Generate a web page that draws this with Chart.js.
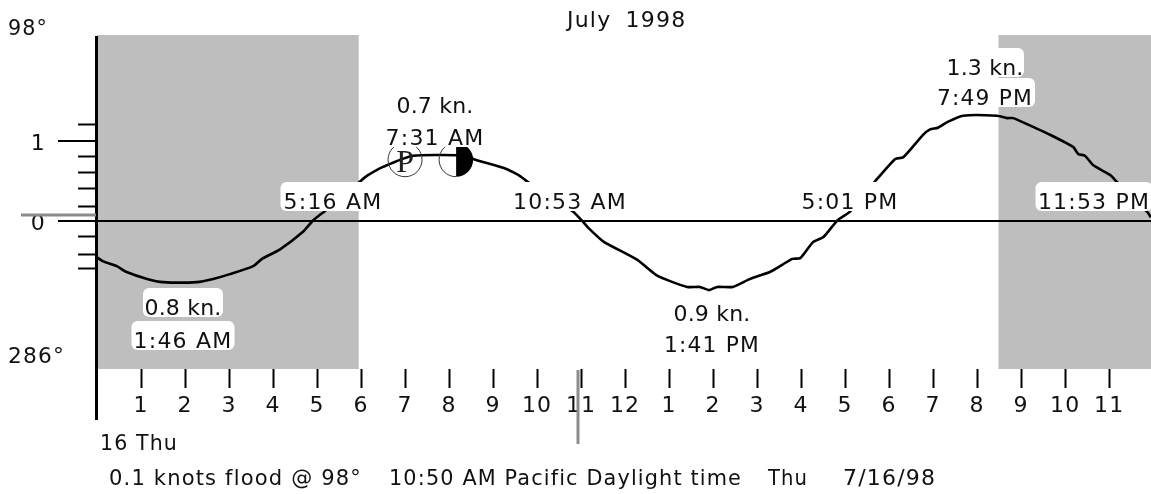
<!DOCTYPE html>
<html><head><meta charset="utf-8">
<style>html,body{margin:0;padding:0;background:#fff}canvas{display:block}</style>
<script src="https://cdn.jsdelivr.net/npm/chart.js@4"></script>
</head><body><canvas id="c" width="1151" height="494"></canvas>
<script>
const hours=[0,.14,.45,.66,1.14,1.5,2.27,2.64,3.02,3.55,3.75,4.16,4.68,4.91,5.18,5.98,6.14,6.5,7.18,8.48,8.55,9.23,9.57,9.77,10.82,11.05,11.16,11.5,12.27,12.73,13.41,13.7,13.91,14.09,14.45,14.84,15.3,15.8,15.98,16.27,16.5,16.7,16.84,17.11,17.68,18.14,18.32,18.77,18.93,19.11,19.32,19.68,20.45,20.68,20.82,21.27,21.59,22.18,22.3,22.45,22.64,23.02,23.18,23.86,23.95];
const knots=[-.46,-.51,-.57,-.64,-.73,-.77,-.77,-.73,-.67,-.57,-.48,-.36,-.14,0,.12,.49,.56,.67,.81,.81,.77,.66,.57,.49,.11,-.02,-.09,-.26,-.49,-.69,-.83,-.83,-.87,-.83,-.83,-.73,-.64,-.48,-.47,-.27,-.21,-.08,.01,.11,.49,.77,.79,1.07,1.14,1.16,1.23,1.31,1.31,1.28,1.28,1.17,1.09,.92,.83,.81,.69,.57,.48,.11,.04];
const hourTicks=[1,2,3,4,5,6,7,8,9,10,11,12,13,14,15,16,17,18,19,20,21,22,23];
const hourLabels=['1','2','3','4','5','6','7','8','9','10','11','12','1','2','3','4','5','6','7','8','9','10','11'];
const majorKnots=[0,1];
const minorKnots=[1.2,.8,.6,.4,.17,-.2,-.43,-.6];
const nightAM=[0,5.95];
const nightPM=[20.48,23.95];
const currentHour=10.93;
const currentKnots=.07;
const title='July 1998';
const dirTop='98°';
const dirBottom='286°';
const dayLabel='16 Thu';
const statusParts=['0.1 knots flood @ 98°','10:50 AM Pacific Daylight time','Thu','7/16/98'];
const FONT='22px "DejaVu Sans"';
const SP='1.2px';
const YMAX=2.319,YMIN=-1.856,XMAX=23.95;
// text, centre x, baseline y, fitted width
const boxed=[
 ['5:16 AM',333,209,101],['10:53 AM',570,209,114],['5:01 PM',850,209,97],['11:53 PM',1094,209,113],
 ['0.8 kn.',183,315,76],['1:46 AM',183,348,99],['0.7 kn.',435,113,76],['7:31 AM',435,145,99],
 ['0.9 kn.',712,321,76],['1:41 PM',712,352,96],['1.3 kn.',985,75,74],['7:49 PM',985,105,96]];
// text, left x, baseline y, fitted width
const plain=[[dirTop,8,35,40],[dirBottom,8,363,57],[dayLabel,100,450,78],
 [statusParts[0],109,485,253],[statusParts[1],389,485,353],[statusParts[2],768,485,40],[statusParts[3],843,485,102]];
const deco={id:'deco',
 beforeDraw(ch){ch.ctx.letterSpacing=SP;},
 afterDatasetsDraw(ch){
  const c=ch.ctx,x=ch.scales.x,y=ch.scales.y;
  const mx1=x.getPixelForValue(7),mx2=x.getPixelForValue(8.16),my=y.getPixelForValue(.76);
  c.save();c.lineWidth=1;c.strokeStyle='#333';
  c.beginPath();c.arc(mx1,my,17,0,7);c.stroke();
  c.beginPath();c.arc(mx2,my,17,Math.PI/2,Math.PI*1.5);c.stroke();
  c.fillStyle='#000';c.beginPath();c.arc(mx2,my,17,-Math.PI/2,Math.PI/2);c.closePath();c.fill();
  c.letterSpacing='0px';c.font='32px "Liberation Serif"';c.fillStyle='#222';c.textAlign='center';c.textBaseline='alphabetic';
  c.fillText('P',mx1,my+12);
  c.restore();
 },
 afterDraw(ch){
  const c=ch.ctx,x=ch.scales.x,y=ch.scales.y;
  c.save();
  c.strokeStyle='#000';c.lineWidth=3;c.beginPath();c.moveTo(x.getPixelForValue(0)-.5,36);c.lineTo(x.getPixelForValue(0)-.5,420);c.stroke();
  c.strokeStyle='#8c8c8c';c.lineWidth=3;
  const cx=Math.round(x.getPixelForValue(currentHour)),cy=Math.round(y.getPixelForValue(currentKnots));
  c.beginPath();c.moveTo(cx,370);c.lineTo(cx,444);c.stroke();
  c.beginPath();c.moveTo(21,cy);c.lineTo(96,cy);c.stroke();
  c.font=FONT;c.textBaseline='alphabetic';c.letterSpacing=SP;
  c.textAlign='center';
  for(const [t,px,py,w0] of boxed){
   const w=w0+4;
   c.fillStyle='#fff';c.beginPath();c.roundRect(px-w/2,py-27,w,29,6);c.fill();
  }
  c.fillStyle='#111';
  for(const [t,px,py,w] of boxed){
   if(t.endsWith('kn.')){c.letterSpacing='0.2px';c.fillText(t,px,py);c.letterSpacing=SP;}
   else c.fillText(t,px,py,w);
  }
  c.textAlign='left';
  for(const [t,px,py,w] of plain){c.fillText(t,px,py,w);}
  c.wordSpacing='6px';c.fillText(title,567,27);c.wordSpacing='0px';
  c.restore();
 }};
const band=(xs)=>({data:xs.map(v=>({x:v,y:YMAX})),borderWidth:0,pointRadius:0,backgroundColor:'#bebebe',fill:'start',order:5});
new Chart(document.getElementById('c'),{
 type:'line',
 data:{datasets:[
  {data:hours.map((h,i)=>({x:h,y:knots[i]})),borderColor:'#000',borderWidth:2.6,pointRadius:0,fill:false,tension:0.2,order:1},
  band(nightAM),band(nightPM)]},
 plugins:[deco],
 options:{responsive:false,animation:false,events:[],
  layout:{padding:{top:35,left:0,right:0,bottom:0}},
  plugins:{legend:{display:false},tooltip:{enabled:false},title:{display:false}},
  scales:{
   x:{type:'linear',min:0,max:XMAX,afterBuildTicks(s){s.ticks=hourTicks.map(v=>({value:v}));},afterFit(s){s.height=125;},
    border:{display:false},
    grid:{drawOnChartArea:false,tickLength:19,tickColor:'#000',tickWidth:2},
    ticks:{autoSkip:false,maxRotation:0,padding:5,color:'#111',font:{family:'DejaVu Sans',size:22},callback:(v)=>hourLabels[hourTicks.indexOf(v)]}},
   y:{min:YMIN,max:YMAX,weight:1,afterBuildTicks(s){s.ticks=majorKnots.map(v=>({value:v}));},afterFit(s){s.width=97;},
    border:{display:false},
    grid:{z:1,tickLength:39,tickColor:'#000',tickWidth:2,lineWidth:2,color:(c)=>c.tick&&c.tick.value===0?'#000':'rgba(0,0,0,0)'},
    ticks:{padding:12,labelOffset:4,color:'#111',font:{family:'DejaVu Sans',size:22},callback:(v)=>String(v)}},
   y2:{position:'left',min:YMIN,max:YMAX,weight:0,afterBuildTicks(s){s.ticks=minorKnots.map(v=>({value:v}));},afterFit(s){s.width=0;},
    border:{display:false},
    grid:{drawOnChartArea:false,z:1,tickLength:19,tickColor:'#000',tickWidth:2},
    ticks:{display:false}}
  }}
});
</script></body></html>
